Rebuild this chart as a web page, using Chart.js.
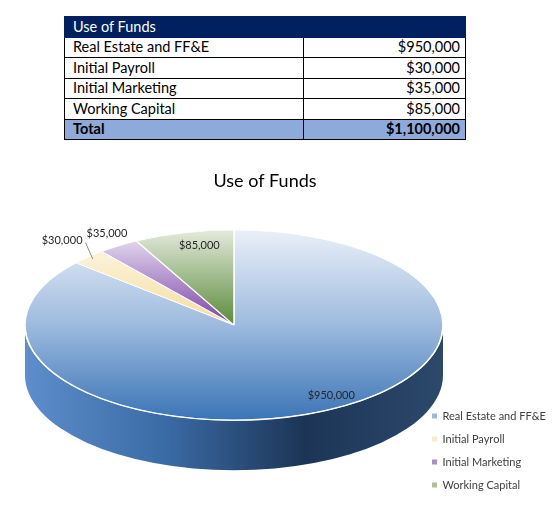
<!DOCTYPE html>
<html>
<head>
<meta charset="utf-8">
<script src="https://cdn.jsdelivr.net/npm/chart.js@4.4.1/dist/chart.umd.min.js"></script>
<style>
  body { margin: 0; background: #fff; font-family: Lato, sans-serif; }
  #funds { position: absolute; left: 64px; top: 16px; width: 402px; border-collapse: collapse; font-size: 14.5px; color: #000; }
  #funds tr { height: 20.5px; }
  #funds td { border: 1px solid #000; padding: 0 5px 0 8px; line-height: 18px; white-space: nowrap; }
  #funds td.name { width: 225px; }
  #funds td.amt { text-align: right; }
  #funds tr.head td { background: #002060; color: #fff; border-color: #002060; }
  #funds tr.total td { background: #8eaadb; font-weight: bold; }
  #chartBox { position: absolute; left: 0; top: 150px; width: 555px; height: 380px; }
</style>
</head>
<body>
<table id="funds"></table>
<div id="chartBox"><canvas id="fundsChart"></canvas></div>
<script>
const tableTitle = "Use of Funds";
const chartTitle = "Use of Funds";
const totalLabel = "Total";
const categories = ["Real Estate and FF&E", "Initial Payroll", "Initial Marketing", "Working Capital"];
const amounts = [950000, 30000, 35000, 85000];

// colours of the top faces (top -> bottom), the side wall and the legend keys
const faceStops = [
    ["#eaf0f8", "#9dbade", "#3a74b6"],
    ["#fdf9ee", "#f5dd9c"],
    ["#eee8f5", "#7b42a7"],
    ["#e4eadc", "#5a8a3a"]
];
const sideStops = [
    ["#5e8ecb", "#3b6ba5", "#1c3557", "#2c486b"],
    ["#e8d290", "#c9ad5c"],
    ["#7b42a7", "#5a2d7d"],
    ["#5a8a3a", "#3f6528"]
];
const legendColors = ["#9fb9dc", "#f7ebc8", "#a88fc7", "#adc09a"];
// where the value labels sit: x factor, y factor along the slice middle, leader line
const labelShape = [[1.12, 0.81, false], [1.18, 1.24, true], [1.10, 1.16, false], [0.69, 0.86, false]];

function money(v) {
    return "$" + v.toLocaleString("en-US");
}

function buildTable() {
    const table = document.getElementById("funds");
    let rows = `<tr class="head"><td colspan="2">${tableTitle}</td></tr>`;
    categories.forEach((name, i) => {
        rows += `<tr><td class="name">${name.replace("&", "&amp;")}</td><td class="amt">${money(amounts[i])}</td></tr>`;
    });
    const total = amounts.reduce((a, b) => a + b, 0);
    rows += `<tr class="total"><td class="name">${totalLabel}</td><td class="amt">${money(total)}</td></tr>`;
    table.innerHTML = rows;
}

function faceFill(c) {
    const chart = c.chart;
    const a = chart.chartArea;
    const stops = faceStops[c.dataIndex];
    if (!a) return stops[stops.length - 1];
    const r = Math.min(a.width, a.height) / 2;
    const cy = (a.top + a.bottom) / 2;
    const g = chart.ctx.createLinearGradient(0, cy - r, 0, c.dataIndex === 0 ? cy + r : cy);
    stops.forEach((s, i) => g.addColorStop(i / (stops.length - 1), s));
    return g;
}

const pie3d = {
    id: "pie3d",
    geometry(chart, opts) {
        const a = chart.chartArea;
        const rx = (a.width + opts.overlap) / 2;
        const ry = rx * opts.tilt;
        return { cx: a.left + rx, cy: a.top + ry, rx: rx, ry: ry, depth: rx * opts.depth };
    },
    afterLayout(chart) {
        // let the legend text run past its narrow box instead of being clipped
        const l = chart.legend;
        if (l) {
            l.right = chart.width;
            l.width = l.right - l.left;
        }
    },
    beforeDatasetsDraw(chart, args, opts) {
        const ctx = chart.ctx;
        const g = this.geometry(chart, opts);
        const arcs = chart.getDatasetMeta(0).data;

        // side wall, only the front half of the rim is visible
        arcs.forEach((arc, i) => {
            for (let k = -1; k <= 1; k++) {
                const a0 = Math.max(arc.startAngle, 2 * Math.PI * k);
                const a1 = Math.min(arc.endAngle, Math.PI + 2 * Math.PI * k);
                if (a1 <= a0) continue;
                const grad = ctx.createLinearGradient(g.cx - g.rx, 0, g.cx + g.rx, 0);
                const st = sideStops[i];
                st.forEach((s, j) => grad.addColorStop(j / (st.length - 1), s));
                ctx.beginPath();
                ctx.ellipse(g.cx, g.cy, g.rx, g.ry, 0, a0, a1);
                ctx.ellipse(g.cx, g.cy + g.depth, g.rx, g.ry, 0, a1, a0, true);
                ctx.closePath();
                ctx.fillStyle = grad;
                ctx.fill();
            }
        });

        // squash the round pie into the top face
        const first = arcs[0];
        ctx.save();
        ctx.translate(g.cx, g.cy);
        ctx.scale(g.rx / first.outerRadius, g.ry / first.outerRadius);
        ctx.translate(-first.x, -first.y);
    },
    afterDatasetsDraw(chart, args, opts) {
        const ctx = chart.ctx;
        ctx.restore();
        const g = this.geometry(chart, opts);
        const arcs = chart.getDatasetMeta(0).data;

        // white highlight on the front edge
        ctx.save();
        ctx.beginPath();
        ctx.ellipse(g.cx, g.cy, g.rx, g.ry, 0, 0.02, Math.PI - 0.02);
        ctx.strokeStyle = "rgba(255,255,255,0.9)";
        ctx.lineWidth = 1.5;
        ctx.stroke();

        ctx.font = "11px Lato";
        ctx.fillStyle = "#262626";
        ctx.textAlign = "center";
        ctx.textBaseline = "middle";
        arcs.forEach((arc, i) => {
            const mid = (arc.startAngle + arc.endAngle) / 2;
            const [fx, fy, leader] = labelShape[i];
            const x = g.cx + g.rx * fx * Math.cos(mid);
            const y = g.cy + g.ry * fy * Math.sin(mid);
            const text = money(amounts[i]);
            ctx.fillText(text, x, y);
            if (leader) {
                const w = ctx.measureText(text).width;
                ctx.beginPath();
                ctx.moveTo(x + w / 2 + 3, y + 2);
                ctx.lineTo(g.cx + g.rx * 0.97 * Math.cos(mid), g.cy + g.ry * 0.97 * Math.sin(mid));
                ctx.strokeStyle = "#8c8c8c";
                ctx.lineWidth = 1;
                ctx.stroke();
            }
        });
        ctx.restore();
    }
};

function drawChart() {
    new Chart(document.getElementById("fundsChart"), {
        type: "pie",
        data: {
            labels: categories,
            datasets: [{
                data: amounts,
                backgroundColor: faceFill,
                borderColor: "#ffffff",
                borderWidth: 1,
                clip: false
            }]
        },
        options: {
            responsive: true,
            maintainAspectRatio: false,
            animation: false,
            events: [],
            layout: { padding: { left: 25, right: 50, top: 0, bottom: 27.5 } },
            plugins: {
                title: {
                    display: true,
                    text: chartTitle,
                    color: "#000000",
                    font: { family: "Lato", size: 18, weight: "normal" },
                    padding: { top: 20.2, bottom: 38.2 }
                },
                legend: {
                    position: "right",
                    align: "end",
                    maxWidth: 85,
                    labels: {
                        boxWidth: 5,
                        boxHeight: 5,
                        padding: 12,
                        color: "#404040",
                        font: { family: "Lato", size: 11 },
                        generateLabels(chart) {
                            const items = Chart.overrides.doughnut.plugins.legend.labels.generateLabels(chart);
                            items.forEach((it, i) => {
                                it.fillStyle = legendColors[i];
                                it.strokeStyle = legendColors[i];
                                it.lineWidth = 0;
                            });
                            return items;
                        }
                    }
                },
                tooltip: { enabled: false },
                pie3d: { overlap: 23, tilt: 0.455, depth: 0.24 }
            }
        },
        plugins: [pie3d]
    });
}

document.addEventListener("DOMContentLoaded", function () {
    buildTable();
    Promise.all([document.fonts.load("18px Lato"), document.fonts.load("bold 14px Lato")])
        .then(drawChart, drawChart);
});
</script>
</body>
</html>
